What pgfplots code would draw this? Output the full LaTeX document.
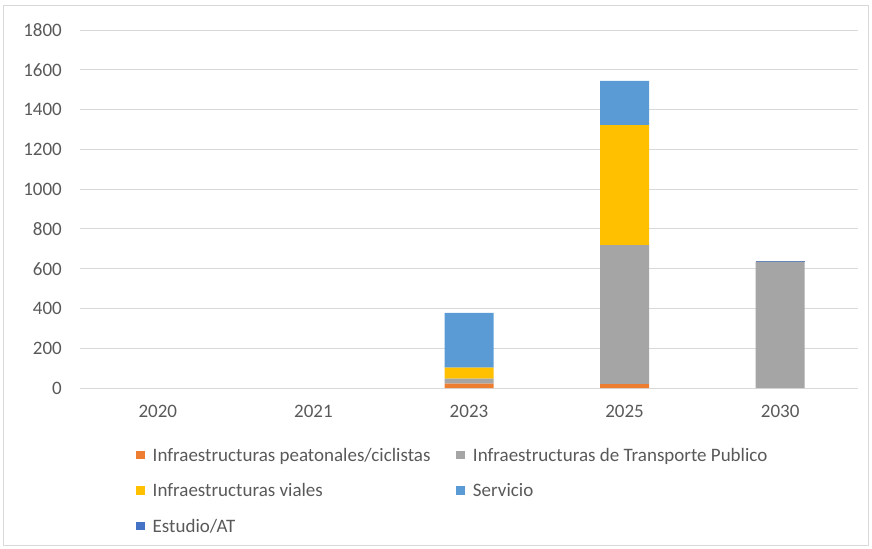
\documentclass[border=0pt]{standalone}
\usepackage{fontspec}
\setmainfont{Carlito}
\usepackage{pgfplots}
\pgfplotsset{compat=1.18}
\definecolor{cOrange}{HTML}{ED7D31}
\definecolor{cGray}{HTML}{A5A5A5}
\definecolor{cYellow}{HTML}{FFC000}
\definecolor{cBlue}{HTML}{5B9BD5}
\definecolor{cDBlue}{HTML}{4472C4}
\definecolor{cText}{HTML}{595959}
\definecolor{cGrid}{HTML}{D9D9D9}
\newcommand\ls{\rule{0pt}{30bp}}
\begin{document}
\begin{tikzpicture}
\path (-80bp,-161bp) rectangle (792bp,388bp);
\draw[cGrid, line width=0.8bp] (-77bp,-157bp) rectangle (788bp,383bp);
\begin{axis}[
  scale only axis,
  width=778bp, height=358bp,
  ybar stacked,
  bar width=49bp,
  xmin=-0.5, xmax=4.5,
  ymin=0, ymax=1800,
  xtick={0,1,2,3,4},
  xticklabels={2020,2021,2023,2025,2030},
  ytick={0,200,...,1800},
  /pgf/number format/assume math mode=true,
  /pgf/number format/1000 sep={},
  major tick length=0pt,
  axis line style={draw=none},
  ymajorgrids,
  grid style={cGrid, line width=0.8bp},
  font=\fontsize{19bp}{22bp}\selectfont,
  tick label style={text=cText},
  yticklabel style={anchor=east, inner sep=0pt, xshift=-18bp},
  xticklabel style={anchor=north, inner sep=0pt, yshift=-17bp},
  legend columns=2,
  legend style={draw=none, fill=none, inner sep=0pt, anchor=north west,
    at={(axis description cs:0.072,-0.1145)},
    text=cText,
    cells={anchor=base west},
    /tikz/every odd column/.append style={column sep=6bp},
    /tikz/every even column/.append style={column sep=24bp}},
  legend image code/.code={\path[fill=none,draw=none] (0bp,0bp) rectangle (8.5bp,0bp);
    \fill[#1] (0bp,2bp) rectangle (8.5bp,10.5bp);},
  every axis plot/.append style={draw=none},
]
\addplot[fill=cOrange] coordinates {(0,0) (1,0) (2,22) (3,20) (4,0)};
\addlegendentry{\ls Infraestructuras peatonales/ciclistas}
\addplot[fill=cGray] coordinates {(0,0) (1,0) (2,25) (3,698) (4,635)};
\addlegendentry{\ls Infraestructuras de Transporte Publico}
\addplot[fill=cYellow] coordinates {(0,0) (1,0) (2,55) (3,604) (4,0)};
\addlegendentry{\ls Infraestructuras viales}
\addplot[fill=cBlue] coordinates {(0,0) (1,0) (2,276) (3,222) (4,0)};
\addlegendentry{\ls Servicio}
\addplot[fill=cDBlue] coordinates {(0,0) (1,0) (2,0) (3,0) (4,3)};
\addlegendentry{\ls Estudio/AT}
\end{axis}
\end{tikzpicture}
\end{document}
